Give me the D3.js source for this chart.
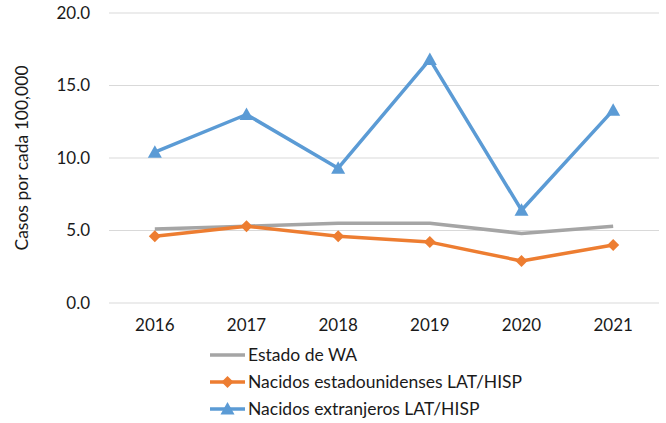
<!DOCTYPE html>
<html>
<head>
<meta charset="utf-8">
<script src="https://cdn.jsdelivr.net/npm/d3@7"></script>
<style>
  body { margin: 0; background: #fff; }
  svg { display: block; font-family: Lato, 'Open Sans', sans-serif; }
</style>
</head>
<body>
<svg id="chart" width="666" height="423"></svg>
<script>
const years = ['2016', '2017', '2018', '2019', '2020', '2021'];
const estadoWA = [5.1, 5.3, 5.5, 5.5, 4.8, 5.3];
const nacidosEEUU = [4.6, 5.3, 4.6, 4.2, 2.9, 4.0];
const nacidosExtranjeros = [10.4, 13.0, 9.3, 16.8, 6.4, 13.3];
const yTicks = [0, 5, 10, 15, 20];

const series = [
  { name: 'Estado de WA', values: estadoWA, color: '#A5A5A5', marker: null },
  { name: 'Nacidos estadounidenses LAT/HISP', values: nacidosEEUU, color: '#ED7D31', marker: 'diamond' },
  { name: 'Nacidos extranjeros LAT/HISP', values: nacidosExtranjeros, color: '#5B9BD5', marker: 'triangle' },
];

const margin = { left: 109, right: 7, top: 13, bottom: 120 };
const width = 666, height = 423;
const svg = d3.select('#chart');

const x = d3.scaleBand().domain(years).range([margin.left, width - margin.right]);
const y = d3.scaleLinear().domain([0, 20]).range([height - margin.bottom, margin.top]);

// gridlines
svg.append('g')
  .selectAll('line')
  .data(yTicks)
  .join('line')
  .attr('x1', margin.left)
  .attr('x2', width - margin.right)
  .attr('y1', d => y(d))
  .attr('y2', d => y(d))
  .attr('stroke', '#D9D9D9')
  .attr('stroke-width', 1);

// y tick labels
const yAxis = d3.axisLeft(y).tickValues(yTicks).tickFormat(d3.format('.1f')).tickSize(0).tickPadding(19);
svg.append('g')
  .attr('transform', `translate(${margin.left},0)`)
  .call(yAxis)
  .call(g => g.select('.domain').remove())
  .selectAll('text')
  .attr('font-family', 'Lato, sans-serif')
  .style('font-size', '17px')
  .attr('fill', '#1a1a1a');

// x tick labels
const xAxis = d3.axisBottom(x).tickSize(0).tickPadding(16);
svg.append('g')
  .attr('transform', `translate(0,${y(0)})`)
  .call(xAxis)
  .call(g => g.select('.domain').remove())
  .selectAll('text')
  .attr('font-family', 'Lato, sans-serif')
  .style('font-size', '17px')
  .attr('fill', '#1a1a1a');

// y axis title
svg.append('text')
  .attr('transform', `translate(28,158)rotate(-90)`)
  .attr('text-anchor', 'middle')
  .style('font-size', '17.5px')
  .attr('fill', '#1a1a1a')
  .text('Casos por cada 100,000');

const cx = d => x(d) + x.bandwidth() / 2;
const line = d3.line().x((d, i) => cx(years[i])).y(d => y(d));

function drawMarker(g, type, color, px, py, s) {
  if (type === 'diamond') {
    g.append('path')
      .attr('d', `M${px},${py - s}L${px + s},${py}L${px},${py + s}L${px - s},${py}Z`)
      .attr('fill', color);
  } else if (type === 'triangle') {
    g.append('path')
      .attr('d', `M${px},${py - s}L${px + s},${py + s * 0.8}L${px - s},${py + s * 0.8}Z`)
      .attr('fill', color);
  }
}

for (const s of series) {
  const g = svg.append('g');
  g.append('path')
    .datum(s.values)
    .attr('d', line)
    .attr('fill', 'none')
    .attr('stroke', s.color)
    .attr('stroke-width', 3.5)
    .attr('stroke-linejoin', 'round');
  if (s.marker) {
    s.values.forEach((v, i) => drawMarker(g, s.marker, s.color, cx(years[i]), y(v), s.marker === 'diamond' ? 6 : 7));
  }
}

// legend
const legendY = [355, 382, 409];
const legend = svg.append('g');
series.forEach((s, i) => {
  const ly = legendY[i];
  legend.append('line')
    .attr('x1', 210).attr('x2', 245)
    .attr('y1', ly).attr('y2', ly)
    .attr('stroke', s.color)
    .attr('stroke-width', 3.5);
  drawMarker(legend, s.marker, s.color, 227.5, ly, s.marker === 'diamond' ? 6 : 7);
  legend.append('text')
    .attr('x', 248)
    .attr('y', ly)
    .attr('dy', '0.35em')
    .style('font-size', '17.5px')
    .attr('fill', '#1a1a1a')
    .text(s.name);
});
</script>
</body>
</html>
